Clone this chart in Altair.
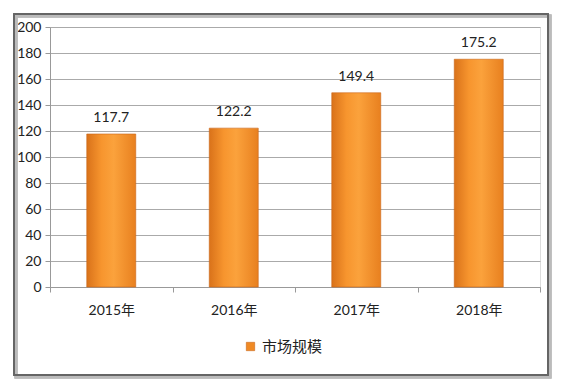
import altair as alt
import pandas as pd

years = ["2015年", "2016年", "2017年", "2018年"]
values = [117.7, 122.2, 149.4, 175.2]
series_name = "市场规模"
y_ticks = [0, 20, 40, 60, 80, 100, 120, 140, 160, 180, 200]

df = pd.DataFrame({"year": years, "value": values, "series": [series_name] * len(years)})

FONT = "Lato, Noto Sans CJK SC, sans-serif"
W, H = 490, 260
TXT = "#222"

grad = alt.Gradient(
    gradient="linear",
    x1=0, x2=1, y1=0, y2=0,
    stops=[
        alt.GradientStop(color="#D9721A", offset=0),
        alt.GradientStop(color="#F7952E", offset=0.3),
        alt.GradientStop(color="#FBA23C", offset=0.55),
        alt.GradientStop(color="#E8801F", offset=1),
    ],
)

base = alt.Chart(df)

x_enc = alt.X(
    "year:N",
    sort=years,
    title=None,
    scale=alt.Scale(paddingInner=0, paddingOuter=0),
    axis=alt.Axis(
        labelAngle=0, labelFontSize=14, labelColor=TXT, labelFont=FONT,
        labelPadding=11, domainColor="#999", tickColor="#999", tickSize=5,
        tickBand="extent", grid=False,
    ),
)
y_enc = alt.Y(
    "value:Q",
    title=None,
    scale=alt.Scale(domain=[0, 200]),
    axis=alt.Axis(
        values=y_ticks, tickCount=11, labelOverlap=False, labelFontSize=14,
        labelColor=TXT, labelFont=FONT, labelPadding=4, domainColor="#999",
        tickColor="#999", tickSize=5, gridColor="#aaa", gridWidth=1,
    ),
)

frame_shadow = base.mark_rect(fill=None, stroke="#bbb", strokeWidth=3).encode(
    x=alt.value(-34), x2=alt.value(500), y=alt.value(-11), y2=alt.value(350)
)
frame = base.mark_rect(fill=None, stroke="#666", strokeWidth=1.5).encode(
    x=alt.value(-36), x2=alt.value(498), y=alt.value(-13), y2=alt.value(348)
)

bars = base.mark_bar(
    fill=grad, stroke="#C9661A", strokeWidth=0.6, width=alt.RelativeBandSize(0.4)
).encode(x=x_enc, y=y_enc)

labels = base.mark_text(
    baseline="bottom", dy=-9, fontSize=14, color=TXT, font=FONT
).encode(x=x_enc, y=y_enc, text=alt.Text("value:Q", format=".1f"))

legend_layer = base.mark_square(opacity=0, size=60).encode(
    x=x_enc,
    y=y_enc,
    color=alt.Color(
        "series:N",
        scale=alt.Scale(range=["#F08A24"]),
        legend=alt.Legend(
            title=None, orient="none", legendX=193, legendY=52 + H,
            symbolOpacity=1, symbolType="square", symbolSize=70,
            symbolStrokeColor="#C9661A", symbolStrokeWidth=0.6,
            labelFontSize=15, labelColor=TXT, labelFont=FONT,
        ),
    ),
)

chart = (
    alt.layer(frame_shadow, frame, bars, labels, legend_layer)
    .properties(
        width=W, height=H,
        autosize=alt.AutoSizeParams(type="none"),
        padding={"left": 42, "top": 19, "right": 16, "bottom": 95},
    )
    .configure_view(stroke=None)
    .configure(background="white")
)

chart.save("out.html", embed_options={"renderer": "svg", "actions": False})
